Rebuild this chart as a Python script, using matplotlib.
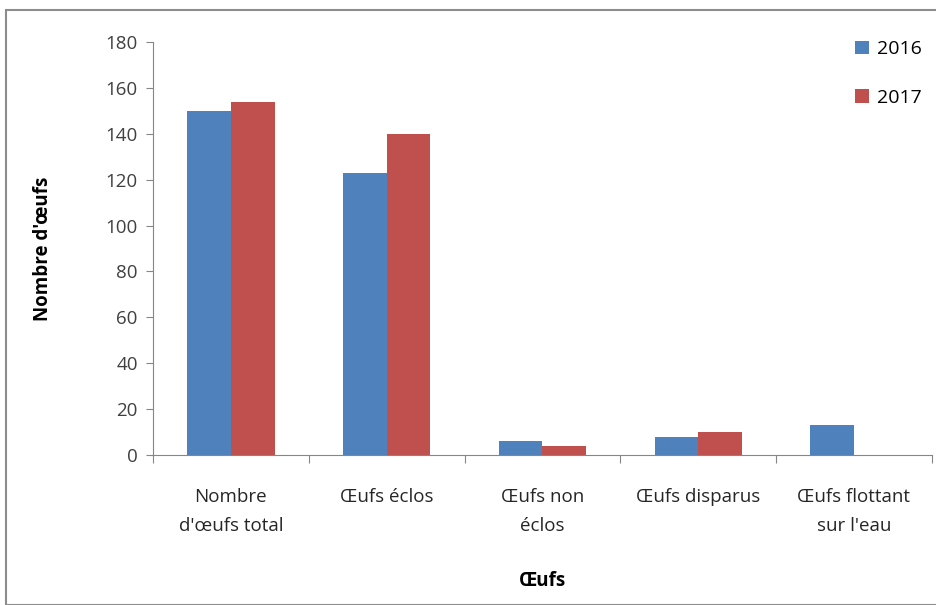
import matplotlib
matplotlib.use("Agg")
import matplotlib.pyplot as plt
import numpy as np
from matplotlib.patches import Rectangle

categories = ["Nombre\nd'œufs total", "Œufs éclos", "Œufs non\néclos", "Œufs disparus", "Œufs flottant\nsur l'eau"]
series_names = ["2016", "2017"]
values_2016 = [150, 123, 6, 8, 13]
values_2017 = [154, 140, 4, 10, 0]
yticks = [0, 20, 40, 60, 80, 100, 120, 140, 160, 180]

plt.rcParams['font.family'] = ['Open Sans', 'DejaVu Sans']

fig = plt.figure(figsize=(9.36, 6.05), dpi=100)
fig.patches.append(Rectangle((0.006, 0.0), 1.2, 0.983, transform=fig.transFigure,
                             fill=False, edgecolor='#8c8c8c', linewidth=1.5))
ax = fig.add_axes([0.1635, 0.248, 0.832, 0.6825])

x = np.arange(len(categories))
w = 0.28
blue = '#4F81BD'
red = '#C0504D'
ax.bar(x - w/2, values_2016, w, color=blue, label=series_names[0])
ax.bar(x + w/2, values_2017, w, color=red, label=series_names[1])

ax.set_xlim(-0.5, len(categories) - 0.5)
ax.set_ylim(0, 180)
ax.set_yticks(yticks)
ax.tick_params(axis='y', labelsize=13.5, colors='#404040', length=5, color='#868686', pad=6)

ax.set_xticks(np.arange(-0.5, len(categories), 1.0))
ax.set_xticklabels([])
ax.set_xticks(x, minor=True)
ax.set_xticklabels(categories, minor=True, fontsize=13.5, color='#262626', linespacing=1.75)
ax.tick_params(axis='x', which='major', length=6, color='#868686')
ax.tick_params(axis='x', which='minor', length=0, pad=24)

for s in ['top', 'right']:
    ax.spines[s].set_visible(False)
for s in ['left', 'bottom']:
    ax.spines[s].set_color('#868686')

ax.set_ylabel("Nombre d'œufs", fontsize=13.5, fontweight='bold', labelpad=38)
ax.set_xlabel("Œufs", fontsize=13.5, fontweight='bold', labelpad=26)

fig.legend(loc='upper left', bbox_to_anchor=(0.895, 0.962), frameon=False,
           fontsize=14, handlelength=0.7, handleheight=0.7, handletextpad=0.4,
           labelspacing=1.55)

fig.savefig("out.png", dpi=100)
